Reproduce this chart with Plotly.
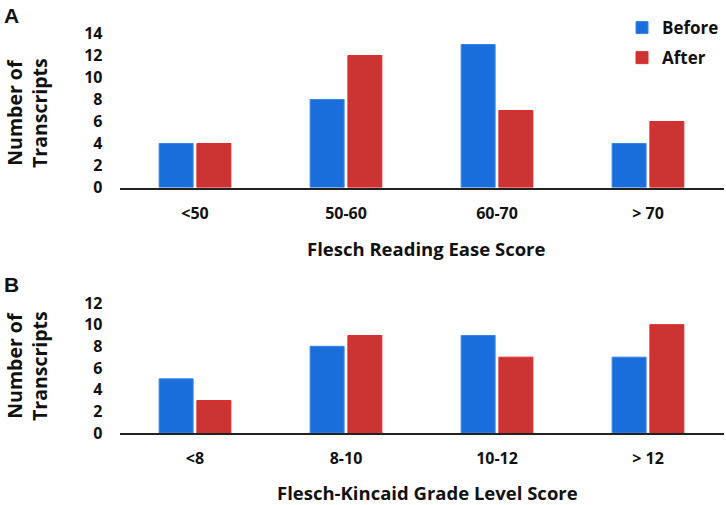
import plotly.graph_objects as go

W, H = 726, 505

cats_a = ["<50", "50-60", "60-70", "> 70"]
before_a = [4, 8, 13, 4]
after_a = [4, 12, 7, 6]

cats_b = ["<8", "8-10", "10-12", "> 12"]
before_b = [5, 8, 9, 7]
after_b = [3, 9, 7, 10]

yticks_a = [0, 2, 4, 6, 8, 10, 12, 14]
yticks_b = [0, 2, 4, 6, 8, 10, 12]

BLUE = "#1a6edb"
RED = "#cc3333"
FONT = "Open Sans"

def px_x(x):
    return x / W

def px_y(y):
    return 1 - y / H

fig = go.Figure()

fig.add_trace(go.Bar(x=cats_a, y=before_a, name="Before", marker=dict(color=BLUE, line=dict(color="#3a84e6", width=1)),
                     xaxis="x", yaxis="y", legendgroup="b"))
fig.add_trace(go.Bar(x=cats_a, y=after_a, name="After", marker=dict(color=RED, line=dict(color="#e22a2a", width=1)),
                     xaxis="x", yaxis="y", legendgroup="a"))
fig.add_trace(go.Bar(x=cats_b, y=before_b, name="Before", marker=dict(color=BLUE, line=dict(color="#3a84e6", width=1)),
                     xaxis="x2", yaxis="y2", showlegend=False, legendgroup="b"))
fig.add_trace(go.Bar(x=cats_b, y=after_b, name="After", marker=dict(color=RED, line=dict(color="#e22a2a", width=1)),
                     xaxis="x2", yaxis="y2", showlegend=False, legendgroup="a"))

tickfont = dict(family=FONT, size=16, color="#111111", weight="bold")
ytickfont = dict(family=FONT, size=16, color="#111111", weight="bold")
xdom = [px_x(119.5), px_x(723.5)]

common_x = dict(domain=xdom, type="category", showline=True, linecolor="#222222", linewidth=2, showgrid=False,
                ticks="", tickfont=tickfont, ticklabelstandoff=10, zeroline=False, automargin=False)
common_y = dict(showline=False, showgrid=False, zeroline=False, ticks="", tickfont=ytickfont,
                ticklabelstandoff=16, automargin=False)

fig.update_layout(
    width=W, height=H,
    margin=dict(l=0, r=0, t=0, b=0),
    paper_bgcolor="white", plot_bgcolor="white",
    barmode="group", bargap=0.5, bargroupgap=0.1,
    showlegend=True,
    legend=dict(x=px_x(622), y=px_y(10), xanchor="left", yanchor="top",
                font=dict(family=FONT, size=17, color="#111111", weight="bold"),
                tracegroupgap=5, bgcolor="rgba(0,0,0,0)"),
    xaxis=dict(anchor="y", **common_x),
    yaxis=dict(anchor="x", domain=[px_y(187.5), px_y(33.5)], range=[0, 14],
               tickvals=yticks_a, **common_y),
    xaxis2=dict(anchor="y2", **common_x),
    yaxis2=dict(anchor="x2", domain=[px_y(433), px_y(303)], range=[0, 12],
                tickvals=yticks_b, **common_y),
)

title_font = dict(family=FONT, size=18.5, color="#111111", weight="bold")
ytitle_font = dict(family=FONT, size=19.5, color="#111111", weight="bold")
ann = [
    dict(text="A", x=px_x(2), y=px_y(2), xanchor="left", yanchor="top",
         font=dict(family="Liberation Sans", size=21, color="#111111", weight="bold")),
    dict(text="B", x=px_x(2), y=px_y(271), xanchor="left", yanchor="top",
         font=dict(family="Liberation Sans", size=21, color="#111111", weight="bold")),
    dict(text="Number of<br>Transcripts", x=px_x(27), y=px_y(113), textangle=-90,
         xanchor="center", yanchor="middle", font=ytitle_font),
    dict(text="Number of<br>Transcripts", x=px_x(27), y=px_y(366), textangle=-90,
         xanchor="center", yanchor="middle", font=ytitle_font),
    dict(text="Flesch Reading Ease Score", x=px_x(426), y=px_y(248),
         xanchor="center", yanchor="middle", font=title_font),
    dict(text="Flesch-Kincaid Grade Level Score", x=px_x(427), y=px_y(492),
         xanchor="center", yanchor="middle", font=title_font),
]
for a in ann:
    a.update(xref="paper", yref="paper", showarrow=False)
    fig.add_annotation(**a)

fig.write_html("out.html", config={"displayModeBar": False},
               post_script="document.body.style.margin='0';document.body.style.padding='0';")
